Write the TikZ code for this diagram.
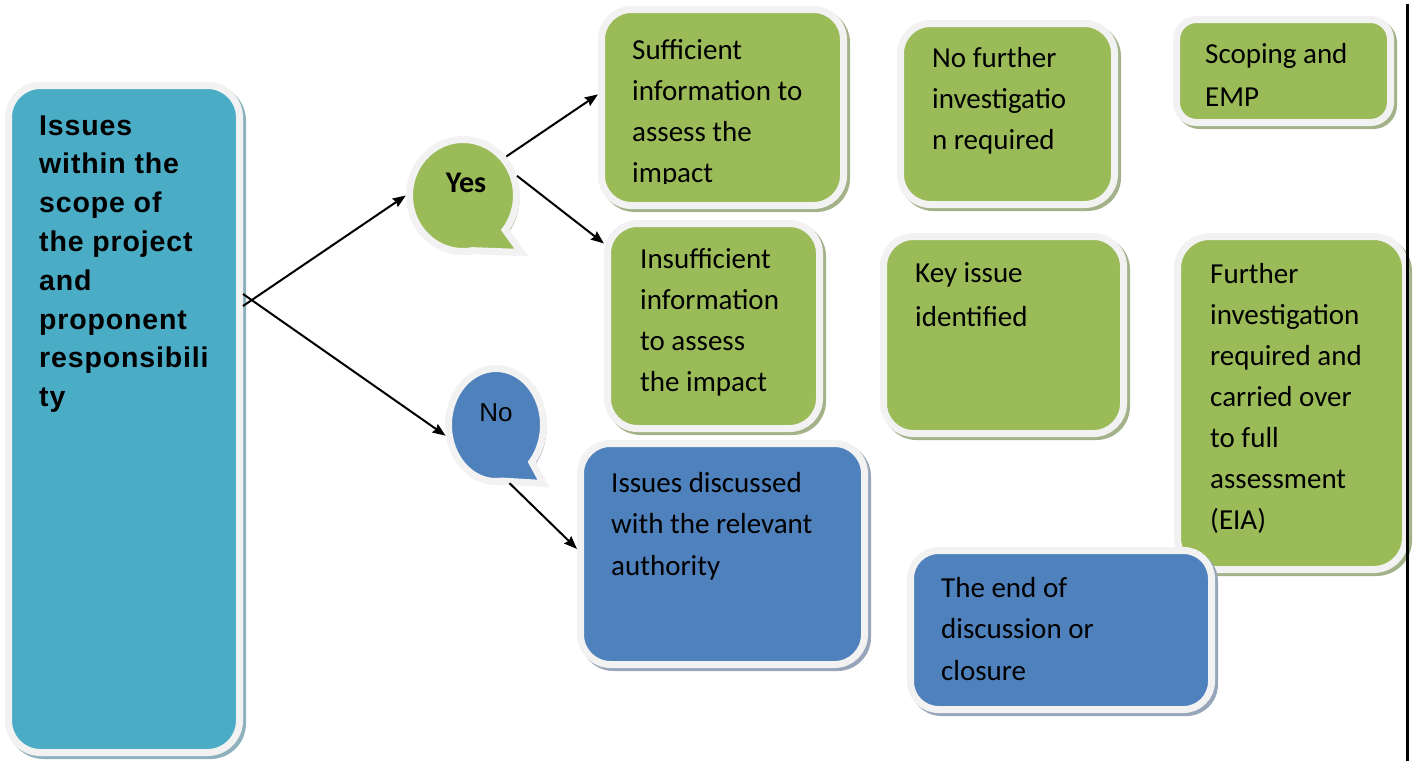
\documentclass[tikz,border=0pt]{standalone}
\usepackage{fontspec}
\setmainfont{Carlito}
\newfontfamily\headfont[LetterSpace=3]{Liberation Sans}
\newfontfamily\arialfont{Liberation Sans}
\usetikzlibrary{arrows.meta,shapes.geometric}

\definecolor{grn}{HTML}{9BBB59}
\definecolor{blu}{HTML}{4F81BD}
\definecolor{aqu}{HTML}{4BACC6}
\definecolor{rim}{HTML}{F2F2F2}
\definecolor{gshd}{HTML}{A4B28A}
\definecolor{bshd}{HTML}{97A6BA}
\definecolor{ashd}{HTML}{8EB2BD}

\tikzset{
  body/.style={anchor=base west, inner sep=0pt, font=\fontsize{29}{41}\selectfont},
  arr/.style={line width=2pt, -{Stealth[length=13pt,width=10pt,inset=1.5pt]}},
}

% rounded panel: name, x1, y1, x2, y2 (inner fill edges), fill, shadow, corner radius
\newcommand\panel[8]{%
  \fill[#7, rounded corners={#8+3.5}] ({#2-4},{#3-4}) rectangle ({#4+10},{#5+10});
  \node[draw=rim, line width=7pt, fill=#6, rounded corners=#8, rectangle,
        inner sep=0pt, outer sep=3.5pt,
        minimum width={#4-#2+7}, minimum height={#5-#3+7}]
        (#1) at ({(#2+#4)/2},{(#3+#5)/2}) {};
}

% elliptic callout with a short tail: name, cx, cy, rx, ry (path radii), tip x, tip y, fill, shadow
\newcommand\callout[9]{%
  \pgfmathsetmacro\ta{atan2(((#7)-(#3))/(#5),((#6)-(#2))/(#4))}%
  \pgfmathsetmacro\tb{\ta+37}%
  \pgfmathsetmacro\te{\ta+355}%
  \fill[#9, xshift=3pt, yshift=-3pt] (#6,#7) --
    plot[domain=\tb:\te, samples=120] ({#2+#4*cos(\x)},{#3+#5*sin(\x)}) -- cycle;
  \filldraw[fill=#8, draw=rim, line width=7pt] (#6,#7) --
    plot[domain=\tb:\te, samples=120] ({#2+#4*cos(\x)},{#3+#5*sin(\x)}) -- cycle;
  \node[ellipse, inner sep=0pt, minimum width={2*#4+7}, minimum height={2*#5+7}]
    (#1) at (#2,#3) {};
}

\begin{document}
\begin{tikzpicture}[x=1pt, y=-1pt]
  \useasboundingbox (0,0) rectangle (1413,761);

  % boxes
  \panel{title}{12}{89}{236}{749}{aqu}{ashd}{32}
  \panel{suff}{605}{13}{840}{202}{grn}{gshd}{30}
  \panel{nofur}{904}{27}{1111}{201}{grn}{gshd}{30}
  \panel{scope}{1180}{23}{1387}{119}{grn}{gshd}{20}
  \panel{insuff}{611}{227}{816}{425}{grn}{gshd}{30}
  \panel{key}{887}{240}{1120}{430}{grn}{gshd}{30}
  \panel{further}{1181}{240}{1402}{566}{grn}{gshd}{32}
  \panel{discuss}{584}{447}{861}{661}{blu}{bshd}{30}
  \panel{closure}{914}{554}{1208}{706}{blu}{bshd}{28}

  % decision callouts
  \callout{yes}{463}{195.5}{53.5}{56}{521.5}{252.5}{grn}{gshd}
  \callout{no}{496}{425}{47.5}{56.5}{543.5}{483.5}{blu}{bshd}

  % connectors
  \draw[arr] ([yshift=113pt]title.east) -- (yes.west);
  \draw[arr] ([yshift=125pt]title.east) -- (no.192);
  \draw[arr] (yes.42) -- (suff.174);
  \draw[arr] (yes.20) -- (insuff.143.5);
  \draw[arr] (no.283) -- (discuss.178);

  % texts
  \node[anchor=base west, inner sep=0pt,
        font=\headfont\bfseries\fontsize{28.5}{38.8}\selectfont] (title-t) at (39,135)
    {\begin{tabular}[t]{@{}l@{}}Issues\\within the\\scope of\\the project\\and\\proponent\\responsibili\\ty\end{tabular}};
  \node[inner sep=0pt, font=\bfseries\fontsize{30}{34}\selectfont] (yes-t) at (466,183) {Yes};
  \node[inner sep=0pt, font=\arialfont\fontsize{26}{30}\selectfont] (no-t) at (496,413) {No};

  \begin{scope}
    \clip (600,0) rectangle (850,183);
    \node[body] (suff-t) at (632,59)
      {\begin{tabular}[t]{@{}l@{}}Sufficient\\information to\\assess the\\impact\end{tabular}};
  \end{scope}
  \node[body] (nofur-t) at (932,67)
    {\begin{tabular}[t]{@{}l@{}}No further\\investigatio\\n required\end{tabular}};
  \node[body, font=\fontsize{29}{43}\selectfont] (scope-t) at (1205,63)
    {\begin{tabular}[t]{@{}l@{}}Scoping and\\EMP\end{tabular}};
  \node[body] (insuff-t) at (640,268)
    {\begin{tabular}[t]{@{}l@{}}Insufficient\\information\\to assess\\the impact\end{tabular}};
  \node[body, font=\fontsize{29}{44}\selectfont] (key-t) at (915,282)
    {\begin{tabular}[t]{@{}l@{}}Key issue\\identified\end{tabular}};
  \node[body] (further-t) at (1210,283)
    {\begin{tabular}[t]{@{}l@{}}Further\\investigation\\required and\\carried over\\to full\\assessment\\(EIA)\end{tabular}};
  \node[body, font=\fontsize{29}{41.5}\selectfont] (discuss-t) at (611,492)
    {\begin{tabular}[t]{@{}l@{}}Issues discussed\\with the relevant\\authority\end{tabular}};
  \node[body, font=\fontsize{29}{41.5}\selectfont] (closure-t) at (941,597)
    {\begin{tabular}[t]{@{}l@{}}The end of\\discussion or\\closure\end{tabular}};

  % page edge rule
  \fill[black] (1406,4) rectangle (1409,761);
\end{tikzpicture}
\end{document}
